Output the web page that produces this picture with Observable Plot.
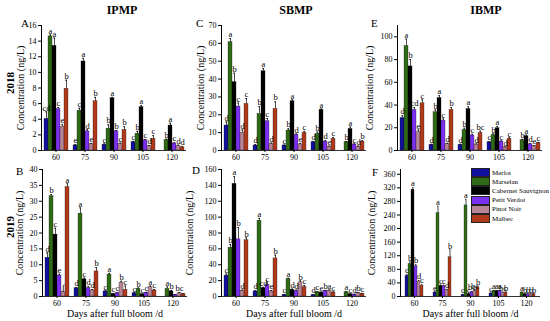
<!DOCTYPE html>
<html><head><meta charset="utf-8">
<script src="https://cdn.jsdelivr.net/npm/d3@7"></script>
<script src="https://cdn.jsdelivr.net/npm/@observablehq/plot@0.6"></script>
<style>
html,body{margin:0;padding:0;background:#fff;}
#root{position:relative;width:550px;height:321px;overflow:hidden;font-family:"Liberation Serif","Times New Roman",serif;}
.pl{position:absolute;}
.pl g[aria-label="y-axis label"] text{font-size:10px;}
.pl g[aria-label="fx-axis label"] text{font-size:10px;}
.t{position:absolute;white-space:nowrap;color:#000;}
.title{font-weight:bold;font-size:12px;transform:translateX(-50%);}
.yr{font-weight:bold;font-size:11px;transform:translate(-50%,-50%) rotate(-90deg);}
.pn{font-size:11px;}
.leg{position:absolute;left:471px;top:168px;font-size:7px;white-space:nowrap;width:79px;}
.leg div{display:flex;align-items:center;height:9.2px;white-space:nowrap;}
.leg span.sw{display:inline-block;flex:none;width:17px;height:7px;border:0.5px solid #222;margin-right:2px;}
</style></head>
<body><div id="root"></div>
<script>
const days = ["60","75","90","105","120"];
const cultivars = ["Merlot","Marselan","Cabernet Sauvignon","Petit Verdot","Pinot Noir","Malbec"];
const colors = ["#10109c","#2f6a14","#000000","#7b30f0","#b98496","#b0391a"];

// rows: days; columns: cultivars
const ipmp2018 = [[4.05,14.6,13.4,5.3,3.0,7.9],[0.65,5.1,11.4,2.45,0.8,6.3],[0.75,2.8,6.7,2.45,0.85,2.65],[1.07,2.15,5.55,1.3,0.55,1.5],[0,1.35,3.2,0.9,0.6,0.4]];
const ipmp2018Err = [[0.9,0.2,1.0,0.2,0.3,1.1],[0.1,0.3,0.4,0.2,0.1,0.5],[0.1,0.5,0.1,0.1,0.1,0.4],[0.1,0.3,0.2,0.1,0.1,0.4],[0,0.1,0.3,0.1,0.1,0.1]];
const ipmp2018Let = [["cd","a","a","c","e","b"],["e","c","a","d","e","b"],["c","b","a","b","c","b"],["c","b","a","c","d","c"],["","b","a","c","d","d"]];

const sbmp2018 = [[14,60.7,38.3,24.6,10,26.1],[2.8,20.5,44.4,16.4,3.7,23.3],[2.8,11.2,27.6,8.8,3.4,9.9],[4.7,9.3,22.8,5.0,2.2,6.5],[0,4.7,12.1,3.4,2.2,5.0]];
const sbmp2018Err = [[2,2,5,2,1.5,3],[0.5,4,1.5,1.5,0.5,4],[0.3,1,0.8,0.5,0.5,0.8],[0.3,1,0.5,0.5,0.3,0.8],[0,0.3,1,0.3,0.3,0.5]];
const sbmp2018Let = [["d","a","b","c","d","c"],["d","b","a","c","d","b"],["c","b","a","d","e","c"],["d","b","a","d","e","c"],["","b","a","c","d","b"]];

const ibmp2018 = [[28.6,92,74,35.7,16,41.5],[5,33.6,46.2,26.3,5.8,35.7],[5,18.1,36.5,13.2,5.3,15.5],[7.3,13.7,19.6,7.9,2.9,10.2],[0,9,12.6,5.5,4,6.6]];
const ibmp2018Err = [[2,6,6,2,2,3],[0.5,2,2,1.5,0.5,2],[0.5,1.5,2,1,0.5,1.5],[0.5,1,1.5,0.5,0.3,1],[0,0.8,1,0.5,0.3,0.5]];
const ibmp2018Let = [["d","a","b","cd","e","c"],["d","b","a","c","d","b"],["d","b","a","c","d","bc"],["c","b","a","c","d","c"],["","b","a","d","e","c"]];

const ipmp2019 = [[12.2,31.6,19.5,6.6,1.4,34.5],[2.6,26.1,5.4,2.7,1.9,7.9],[1.6,6.9,0.8,1.1,4.4,2.1],[1.05,2.4,0.7,1.2,2.9,1.9],[0,2.4,1.6,0.5,1.0,0.8]];
const ipmp2019Err = [[1.5,0.5,2,0.4,0.3,1],[0.2,1.8,0.4,0.4,0.3,1.2],[0.2,0.4,0.1,0.1,0.4,1.2],[0.1,0.3,0.1,0.1,0.4,0.3],[0,0.6,0.3,0.1,0.2,0.1]];
const ipmp2019Let = [["d","b","c","e","f","a"],["d","a","c","d","d","b"],["c","a","c","c","b","c"],["c","b","c","c","a","c"],["","a","b","","bc",""]];

const sbmp2019 = [[26.3,61.5,142,72,7.2,70.9],[6.4,95.5,10.6,14.9,6.4,48],[2.1,22,8.5,7.2,17.8,11.9],[2,5.5,5.1,7.2,7.6,5.1],[0,5.5,3,2.5,4.5,3.5]];
const sbmp2019Err = [[2,4,9,15,1,3],[1,3,1,2,1,4],[0.3,1,1,1,2,2],[0.3,0.5,0.5,0.5,0.5,0.5],[0,0.5,0.3,0.3,0.5,0.3]];
const sbmp2019Let = [["c","b","a","b","d","b"],["d","a","cd","c","e","b"],["c","a","d","d","b","c"],["d","c","e","b","a","c"],["","a","c","d","b","c"]];

const ibmp2019 = [[61,95.7,314.6,88.8,44,31.6],[11.8,245.6,31.6,31,19,115.4],[5,268.3,7,12.8,16.8,26.6],[9,16.8,16.8,16.8,11.8,11.8],[0,11.8,7,7,7,7]];
const ibmp2019Err = [[4,6,6,5,3,3],[2,20,2,2,2,22],[1,18,1,2,2,3],[1,1,1,1,1,1],[0,1,1,1,1,1]];
const ibmp2019Let = [["c","b","a","b","d","c"],["e","a","c","c","d","b"],["c","a","c","bc","bc","b"],["c","a","a","a","bc","b"],["","a","b","b","b","b"]];

const yTicksA = d3.range(0,17,2), yTicksC = d3.range(0,71,10), yTicksE = d3.range(0,101,20);
const yTicksB = d3.range(0,41,5), yTicksD = d3.range(0,161,20), yTicksF = d3.range(0,361,40);

const root = document.getElementById("root");

function panel(cfg){
  const data = [];
  days.forEach((d,i)=>cultivars.forEach((c,j)=>data.push({day:d,cultivar:c,value:cfg.values[i][j],err:cfg.errs[i][j],letter:cfg.letters[i][j]})));
  const present = data.filter(d=>d.value>0);
  const svg = Plot.plot({
    width: cfg.width, height: cfg.height,
    marginLeft: cfg.ml, marginRight: cfg.mr, marginTop: cfg.mt, marginBottom: cfg.mb,
    style: {fontFamily: "Liberation Serif, Times New Roman, serif", fontSize: "8px", background: "transparent", overflow: "visible"},
    fx: {domain: days, padding: 0, label: cfg.xLabel, axis: "bottom", tickSize: 2, tickPadding: 2, labelAnchor: "center", labelOffset: 20},
    x: {domain: cultivars, axis: null, paddingInner: 0, paddingOuter: 0.55},
    y: {domain: cfg.yDomain, ticks: cfg.yTicks, label: "Concentration (ng/L)", labelAnchor: "center", labelArrow: false, labelOffset: cfg.lo, line: true, tickSize: 3, tickPadding: 2},
    color: {domain: cultivars, range: colors},
    marks: [
      Plot.barY(present, {fx:"day", x:"cultivar", y:"value", fill:"cultivar", stroke:"#111", strokeWidth:0.3}),
      Plot.ruleX(present, {fx:"day", x:"cultivar", y1:"value", y2:d=>d.value+d.err, stroke:"#000", strokeWidth:0.7}),
      Plot.tickY(present, {fx:"day", x:"cultivar", y:d=>d.value+d.err, stroke:"#000", strokeWidth:0.7, insetLeft:1, insetRight:1}),
      Plot.text(present, {fx:"day", x:"cultivar", y:d=>d.value+d.err, text:"letter", dy:-4, fontSize:8.5, fill:"#000"}),
      Plot.ruleY([0], {stroke:"#000", strokeWidth:0.8})
    ]
  });
  const wrap = document.createElement("div");
  wrap.className = "pl";
  wrap.style.left = cfg.left + "px";
  wrap.style.top = cfg.top + "px";
  wrap.appendChild(svg);
  root.appendChild(wrap);
}

panel({left:0, top:15, width:190, height:150, ml:40, mr:3, mt:10, mb:15, lo:25, values:ipmp2018, errs:ipmp2018Err, letters:ipmp2018Let, yDomain:[0,16], yTicks:yTicksA, xLabel:null});
panel({left:180, top:15, width:190, height:150, ml:40, mr:3, mt:10, mb:15, lo:25, values:sbmp2018, errs:sbmp2018Err, letters:sbmp2018Let, yDomain:[0,70], yTicks:yTicksC, xLabel:null});
panel({left:360, top:15, width:190, height:150, ml:37, mr:8, mt:10, mb:15, lo:32, values:ibmp2018, errs:ibmp2018Err, letters:ibmp2018Let, yDomain:[0,110], yTicks:yTicksE, xLabel:null});
panel({left:0, top:160, width:190, height:161, ml:42, mr:3, mt:9, mb:25, lo:27, values:ipmp2019, errs:ipmp2019Err, letters:ipmp2019Let, yDomain:[0,40], yTicks:yTicksB, xLabel:"Days after full bloom /d"});
panel({left:180, top:160, width:190, height:161, ml:40, mr:3, mt:9, mb:25, lo:36, values:sbmp2019, errs:sbmp2019Err, letters:sbmp2019Let, yDomain:[0,160], yTicks:yTicksD, xLabel:"Days after full bloom /d"});
panel({left:360, top:160, width:190, height:161, ml:38, mr:8, mt:9, mb:25, lo:33, values:ibmp2019, errs:ibmp2019Err, letters:ibmp2019Let, yDomain:[0,374], yTicks:yTicksF, xLabel:"Days after full bloom /d"});

const texts = [
  ["IPMP","title",122,3],["SBMP","title",296,3],["IBMP","title",486,3],
  ["2018","yr",10,83],["2019","yr",10,227],
  ["A","pn",21,17],["C","pn",196,17],["E","pn",371,17],
  ["B","pn",16,165],["D","pn",192,164],["F","pn",372,166]
];
texts.forEach(([s,c,x,y])=>{const e=document.createElement("div");e.className="t "+c;e.textContent=s;e.style.left=x+"px";e.style.top=y+"px";root.appendChild(e);});

const leg = document.createElement("div");
leg.className = "leg";
cultivars.forEach((c,i)=>{const r=document.createElement("div");const sw=document.createElement("span");sw.className="sw";sw.style.background=colors[i];r.appendChild(sw);r.appendChild(document.createTextNode(c));leg.appendChild(r);});
root.appendChild(leg);
</script></body></html>
